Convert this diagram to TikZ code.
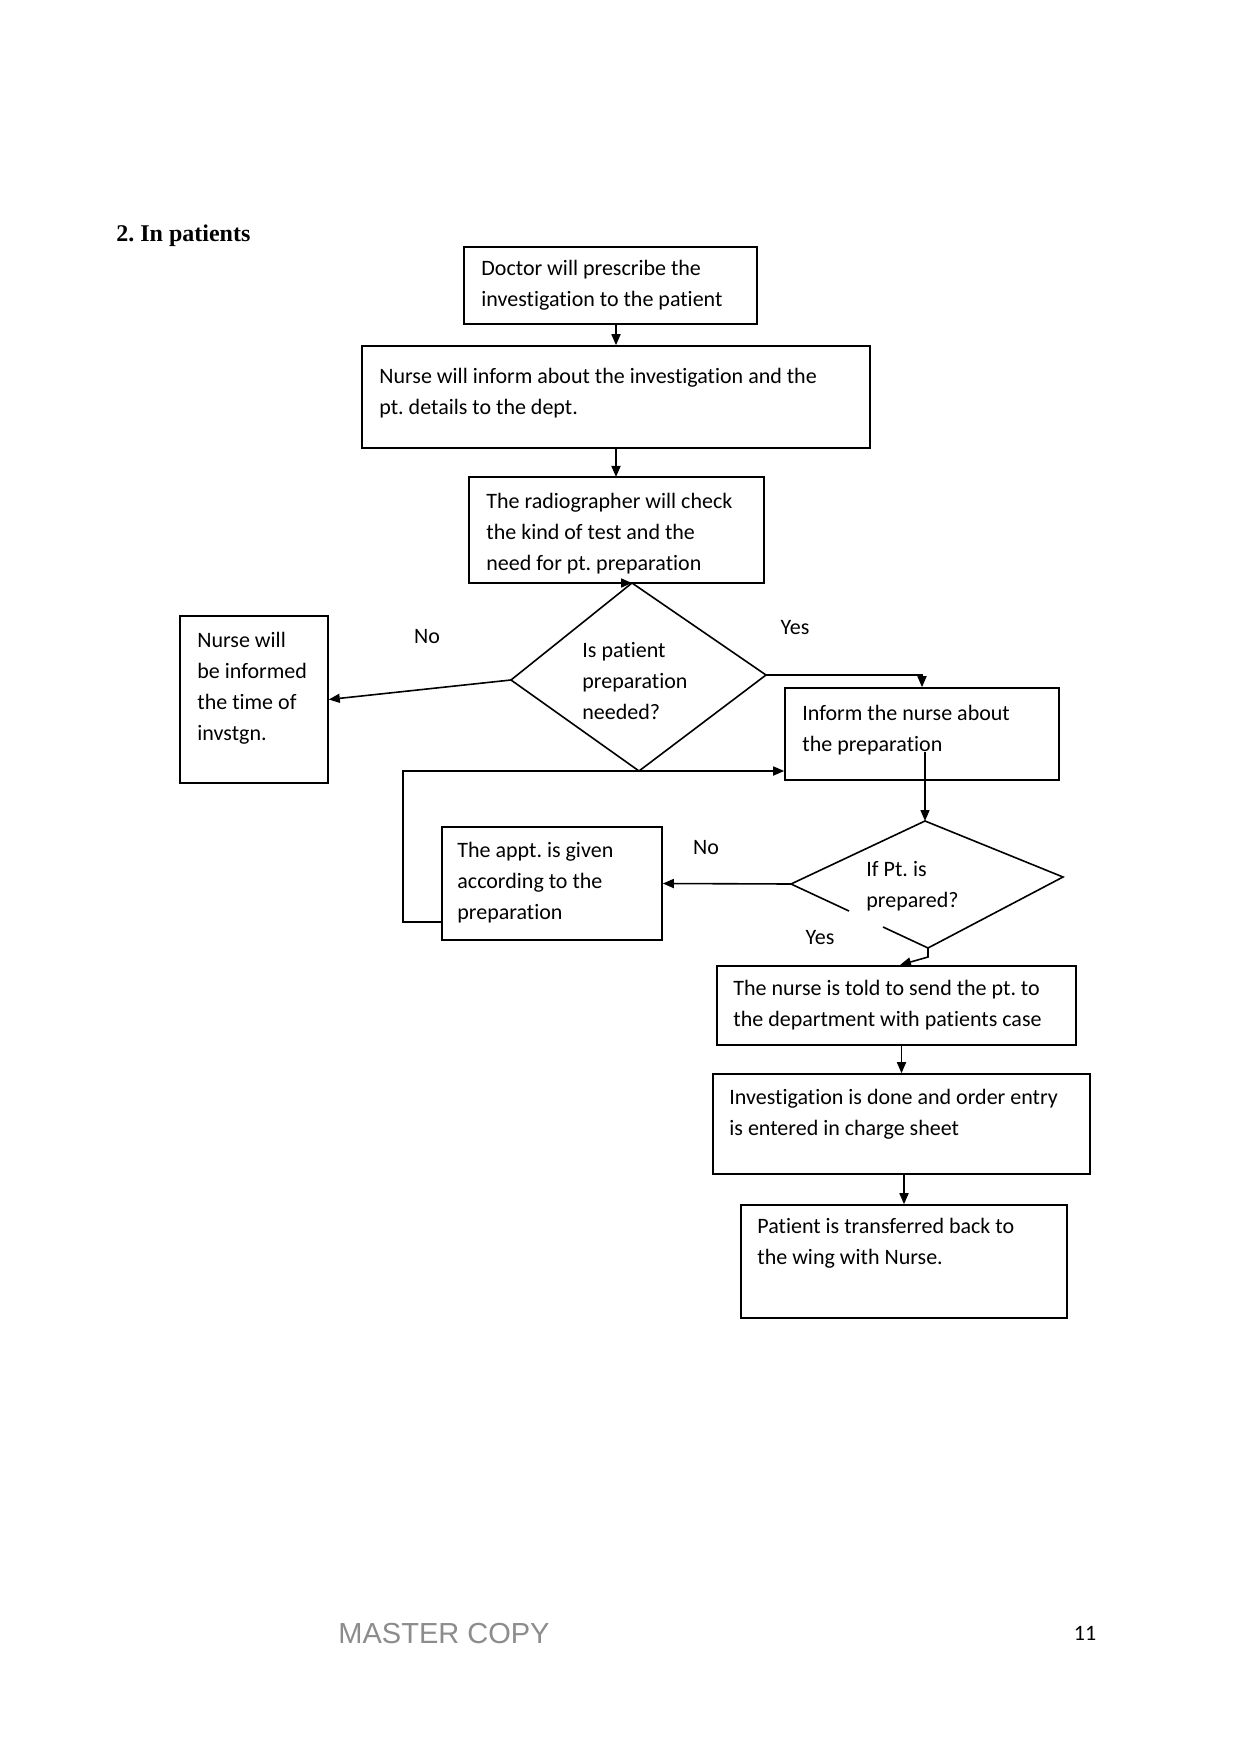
\documentclass[tikz,border=0pt]{standalone}
\usepackage{fontspec}
\setmainfont[Ligatures=NoCommon]{Carlito}
\newfontfamily\titlefont{Liberation Serif}
\newfontfamily\stampfont{Liberation Sans}
\usetikzlibrary{arrows.meta,fit}
\frenchspacing
\begin{document}
\begin{tikzpicture}[x=0.5pt,y=-0.5pt,
  box/.style={draw, line width=0.8pt, inner sep=0pt},
  txt/.style={anchor=north west, inner sep=0pt, align=left, font=\fontsize{11}{15.5}\selectfont, execute at begin node=\strut},
  lbl/.style={inner sep=0pt, font=\fontsize{11}{13}\selectfont},
  arr/.style={line width=0.8pt, -{Triangle[length=5.5pt,width=4.5pt]}},
  ln/.style={line width=0.8pt}]
\useasboundingbox[fill=white] (0,0) rectangle (1246,1764);

% title
\node[anchor=west, inner sep=0pt, font=\titlefont\bfseries\fontsize{12}{14}\selectfont] (title) at (116,236) {2. In patients};

% boxes
\node[box, fit={(464,247) (757,324)}] (b1) {};
\node[box, fit={(362,346) (870,448)}] (b2) {};
\node[box, fit={(469,477) (764,583)}] (b3) {};
\node[box, fit={(180,616) (328,783)}] (b4) {};
\node[box, fit={(785,688) (1059,780)}] (b5) {};
\node[box, fit={(442,827) (662,940)}] (b6) {};
\node[box, fit={(717,966) (1076,1045)}] (b7) {};
\node[box, fit={(713,1074) (1090,1174)}] (b8) {};
\node[box, fit={(741,1205) (1067,1318)}] (b9) {};

% texts
\node[txt] (t1) at (481,260) {Doctor will prescribe the\\investigation to the patient};
\node[txt] (t2) at (379,368) {Nurse will inform about the investigation and the\\pt. details to the dept.};
\node[txt] (t3) at (486,493) {The radiographer will check\\the kind of test and the\\need for pt. preparation};
\node[txt] (t4) at (197,632) {Nurse will\\be informed\\the time of\\invstgn.};
\node[txt] (t5) at (802,705) {Inform the nurse about\\the preparation};
\node[txt] (t6) at (457,842) {The appt. is given\\according to the\\preparation};
\node[txt] (t7) at (733,980) {The nurse is told to send the pt. to\\the department with patients case};
\node[txt] (t8) at (729,1089) {Investigation is done and order entry\\is entered in charge sheet};
\node[txt] (t9) at (757,1218) {Patient is transferred back to\\the wing with Nurse.};

% diamond 1
\coordinate (d1t) at (632,583);
\coordinate (d1r) at (766,675);
\coordinate (d1b) at (639,771);
\coordinate (d1l) at (511,680);
\draw[ln] (d1t) -- (d1r) -- (d1b) -- (d1l) -- cycle;
\node[txt] (td1) at (582,642) {Is patient\\preparation\\needed?};

% diamond 2 (with a gap on the lower left edge)
\coordinate (d2t) at (925,821);
\coordinate (d2r) at (1063,877);
\coordinate (d2b) at (928,948);
\coordinate (d2l) at (791,884);
\coordinate (g1) at (849,911);
\coordinate (g2) at (883,927);
\draw[ln] (g1) -- (d2l) -- (d2t) -- (d2r) -- (d2b) -- (g2);
\node[txt] (td2) at (866,861) {If Pt. is\\prepared?};

% labels
\node[lbl] (no1) at (427,637) {No};
\node[lbl] (yes1) at (795,628) {Yes};
\node[lbl] (no2) at (706,848) {No};
\node[lbl] (yes2) at (820,938) {Yes};

% connectors
\draw[arr] (b2.north |- b1.south) -- (b2.north);
\draw[arr] (616,448) -- (616,477);
\coordinate (d1in) at (622,583);
\draw[arr] (d1in) -- (d1t);
\draw[arr] (d1l) -- (b4.east);
\draw[arr] (d1r) -| (b5.north);
\draw[arr] (d1b) -- (d1b -| b5.west);
\coordinate (lp) at (403,922);
\draw[ln] (d1b) -- (d1b -| lp) -- (lp) -- (lp -| b6.west);
\coordinate (b5in) at (925,752);
\draw[arr] (b5in) -- (d2t);
\draw[arr] (d2l) -- (b6.east);
\draw[arr] (d2b) -- ++(0,9) -- (900,965);
\draw[arr] (b8.north |- b7.south) -- (b8.north);
\draw[arr] (b9.north |- b8.south) -- (b9.north);

% footer
\node[inner sep=0pt, text=black!45, font=\stampfont\fontsize{14.5}{16}\selectfont] (stamp) at (444,1633) {MASTER COPY};
\node[inner sep=0pt, font=\fontsize{11}{13}\selectfont] (pg) at (1085,1633) {11};
\end{tikzpicture}
\end{document}
